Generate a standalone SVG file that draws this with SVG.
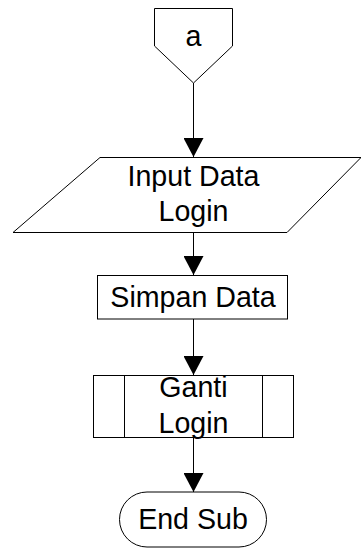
<svg xmlns="http://www.w3.org/2000/svg" width="361" height="548" viewBox="0 0 361 548">
  <style>
    .shape { fill: #ffffff; stroke: #000000; stroke-width: 1; }
    .line { fill: none; stroke: #000000; stroke-width: 1; }
    .label { font-family: "Liberation Sans", Arial, sans-serif; font-size: 28.6px; fill: #000000; text-anchor: middle; }
  </style>
  <defs>
    <marker id="arrow" markerUnits="userSpaceOnUse" markerWidth="20" markerHeight="20" refX="19" refY="10" orient="auto">
      <path d="M0,0 L19,10 L0,20 Z" fill="#000000"/>
    </marker>
  </defs>
  <rect width="361" height="548" fill="#ffffff"/>

  <g id="connectors">
    <line class="line" x1="193.5" y1="83" x2="193.5" y2="157" marker-end="url(#arrow)"/>
    <line class="line" x1="193.5" y1="232" x2="193.5" y2="275" marker-end="url(#arrow)"/>
    <line class="line" x1="193.5" y1="319" x2="193.5" y2="375" marker-end="url(#arrow)"/>
    <line class="line" x1="193.5" y1="437" x2="193.5" y2="492" marker-end="url(#arrow)"/>
  </g>

  <g id="connector-a">
    <path class="shape" d="M154.5,8.5 H232.5 V46 L193.5,83 L154.5,46 Z"/>
    <text class="label" x="193.5" y="46">a</text>
  </g>

  <g id="input-data-login">
    <path class="shape" d="M100,157.5 H361 L287,232.5 H13 Z"/>
    <text class="label" x="193.5" y="186">Input Data</text>
    <text class="label" x="193.5" y="221">Login</text>
  </g>

  <g id="simpan-data">
    <rect class="shape" x="97.5" y="275.5" width="190" height="43.5"/>
    <text class="label" x="193" y="306.5">Simpan Data</text>
  </g>

  <g id="ganti-login">
    <rect class="shape" x="93.5" y="375.5" width="200" height="62"/>
    <line class="line" x1="124.5" y1="375.5" x2="124.5" y2="437.5"/>
    <line class="line" x1="262.5" y1="375.5" x2="262.5" y2="437.5"/>
    <text class="label" x="193.5" y="397">Ganti</text>
    <text class="label" x="193.5" y="432.5">Login</text>
  </g>

  <g id="end-sub">
    <rect class="shape" x="119.5" y="492" width="147" height="55" rx="27.5" ry="27.5"/>
    <text class="label" x="193" y="528.5">End Sub</text>
  </g>
</svg>
